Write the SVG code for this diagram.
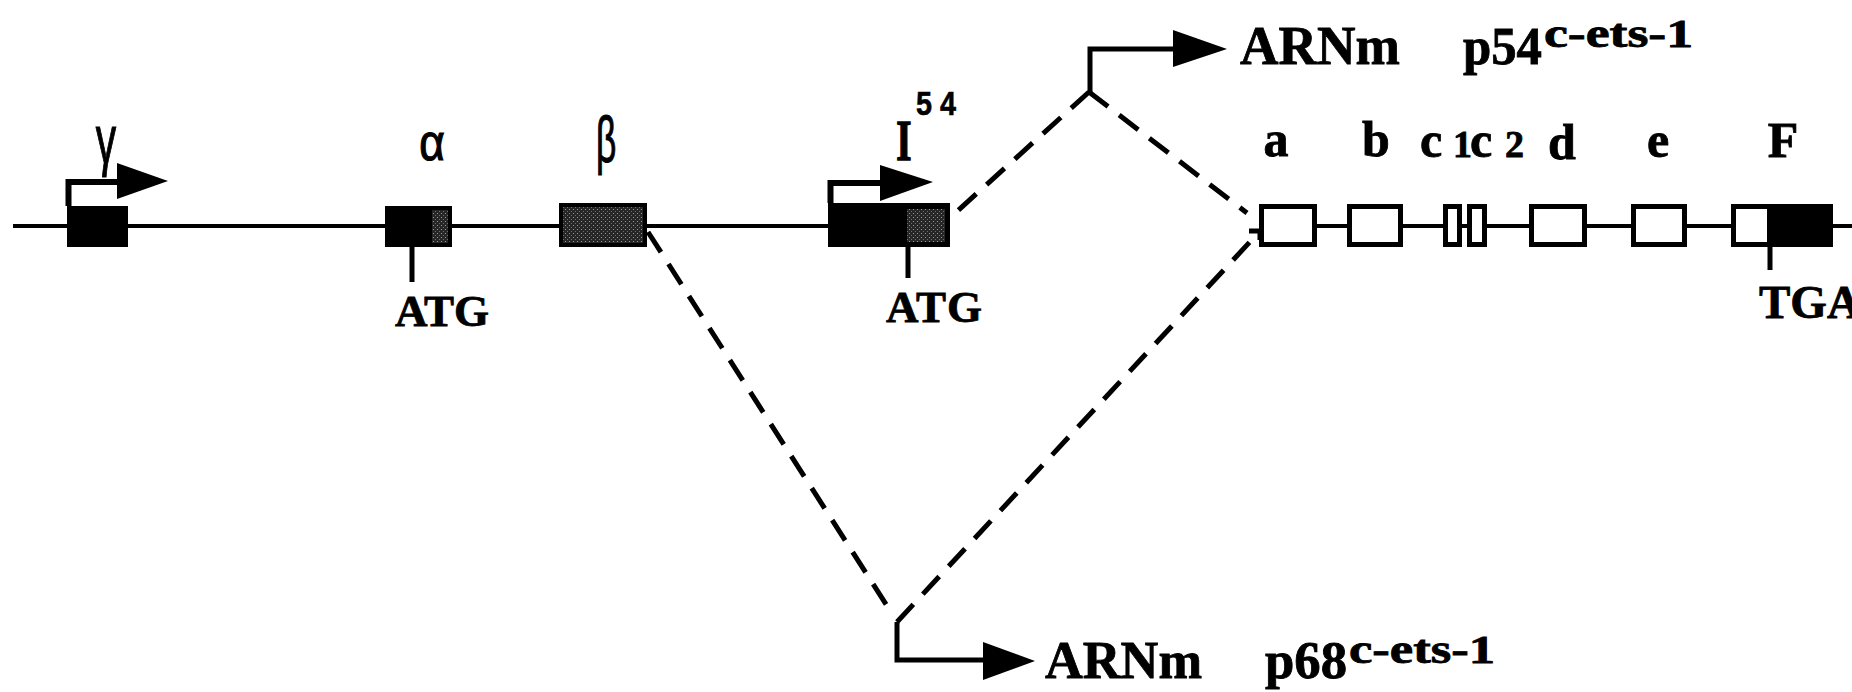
<svg xmlns="http://www.w3.org/2000/svg" width="1852" height="692" viewBox="0 0 1852 692">
<defs>
<pattern id="stip" width="4" height="4" patternUnits="userSpaceOnUse">
<rect width="4" height="4" fill="#262626"/>
<rect x="1" y="1" width="1" height="1" fill="#9a9a9a"/>
<rect x="3" y="3" width="1" height="1" fill="#707070"/>
</pattern>
<style>
.bb{stroke:#000;stroke-width:4;fill:none}
.tick{stroke:#000;stroke-width:5}
.exon{fill:#fff;stroke:#000;stroke-width:5}
.dash{stroke:#000;stroke-width:5;fill:none;stroke-dasharray:24 14}
.solid{stroke:#000;stroke-width:5;fill:none}
.head{fill:#000}
.lbl{font-family:"Liberation Serif","Times New Roman",serif;font-weight:bold;fill:#000;stroke:#000;stroke-width:0.8}
.greek{font-family:"Liberation Sans",Arial,sans-serif;fill:#000;stroke:#000;stroke-width:1.2}
</style>
</defs>
<rect width="1852" height="692" fill="#fff"/>

<g id="backbone">
<line class="bb" x1="13" y1="226" x2="950" y2="226"/>
<line class="bb" x1="1259" y1="226" x2="1852" y2="226"/>
</g>

<g id="exon-gamma">
<rect x="67" y="206" width="61" height="41" fill="#000"/>
<path class="solid" style="stroke-width:6" d="M68.5,206 V182 H119"/>
<polygon class="head" points="117,163 168,181 117,199"/>
<text class="greek" transform="translate(106,163) scale(0.6,1)" font-size="68" text-anchor="middle">γ</text>
</g>

<g id="exon-alpha">
<rect x="385" y="206" width="67" height="41" fill="#000"/>
<rect x="432" y="210" width="16" height="33" fill="url(#stip)"/>
<line class="tick" x1="412" y1="247" x2="412" y2="282"/>
<text class="greek" transform="translate(432,160) scale(0.85,1)" font-size="52" text-anchor="middle">α</text>
<text class="lbl" x="395" y="326" font-size="45" textLength="94" lengthAdjust="spacing">ATG</text>
</g>

<g id="exon-beta">
<rect x="559" y="203" width="88" height="44" fill="#000"/>
<rect x="563" y="207" width="80" height="36" fill="url(#stip)"/>
<text class="greek" transform="translate(606,162) scale(0.55,1)" font-size="64" text-anchor="middle">β</text>
</g>

<g id="exon-I54">
<rect x="828" y="203" width="122" height="44" fill="#000"/>
<rect x="907" y="209" width="38" height="33" fill="url(#stip)"/>
<line class="tick" x1="908" y1="247" x2="908" y2="278"/>
<path class="solid" style="stroke-width:6" d="M830.5,203 V183 H882"/>
<polygon class="head" points="880,165 933,182 880,201"/>
<text class="lbl" transform="translate(904,160) scale(0.7,1)" font-size="56" text-anchor="middle" style="stroke-width:1.5">I</text>
<text class="greek" x="916" y="115" font-size="34" font-weight="bold" textLength="40" lengthAdjust="spacingAndGlyphs" style="stroke-width:0.6">5 4</text>
<text class="lbl" x="886" y="322" font-size="45" textLength="96" lengthAdjust="spacing">ATG</text>
</g>

<g id="exon-a">
<rect class="exon" x="1261.5" y="206.5" width="53" height="38"/>
<text class="lbl" x="1276" y="156" font-size="50" text-anchor="middle">a</text>
</g>
<g id="exon-b">
<rect class="exon" x="1349.5" y="206.5" width="51" height="38"/>
<text class="lbl" x="1376" y="156" font-size="50" text-anchor="middle">b</text>
</g>
<g id="exon-c1">
<rect class="exon" x="1445.5" y="206.5" width="14" height="38"/>
<text class="lbl" x="1420" y="157" font-size="50">c</text>
<text class="lbl" x="1453" y="157" font-size="38">1</text>
</g>
<g id="exon-c2">
<rect class="exon" x="1469.5" y="206.5" width="15" height="38"/>
<text class="lbl" x="1470" y="157" font-size="50">c</text>
<text class="lbl" x="1505" y="157" font-size="38">2</text>
</g>
<g id="exon-d">
<rect class="exon" x="1531.5" y="206.5" width="53" height="38"/>
<text class="lbl" x="1562" y="159" font-size="50" text-anchor="middle">d</text>
</g>
<g id="exon-e">
<rect class="exon" x="1633.5" y="206.5" width="51" height="38"/>
<text class="lbl" x="1658" y="157" font-size="50" text-anchor="middle">e</text>
</g>
<g id="exon-F">
<rect class="exon" x="1733.5" y="206.5" width="97" height="38"/>
<rect x="1767" y="204" width="66" height="43" fill="#000"/>
<line class="tick" x1="1770" y1="247" x2="1770" y2="270"/>
<text class="lbl" x="1783" y="157" font-size="50" text-anchor="middle">F</text>
<text class="lbl" x="1759" y="318" font-size="47">TGA</text>
</g>

<g id="connectors">
<line class="dash" x1="1089" y1="92" x2="953" y2="215"/>
<line class="dash" x1="1089" y1="92" x2="1247" y2="213"/>
<line class="dash" x1="648" y1="232" x2="889" y2="609"/>
<line class="dash" x1="897" y1="622" x2="1260" y2="231"/>
<polyline class="solid" points="1249,231 1260,231 1260,240"/>
<path class="solid" d="M1090,92 V49 H1175"/>
<polygon class="head" points="1173,30 1227,49 1173,67"/>
<path class="solid" d="M897,622 V660 H985"/>
<polygon class="head" points="983,642 1035,661 983,680"/>
</g>

<g id="mrna-p54">
<text class="lbl" x="1240" y="64" font-size="54" textLength="160" lengthAdjust="spacingAndGlyphs">ARNm</text>
<text class="lbl" x="1463" y="64" font-size="52" textLength="79" lengthAdjust="spacingAndGlyphs">p54</text>
<text class="lbl" x="1544" y="47" font-size="40" textLength="149" lengthAdjust="spacingAndGlyphs">c-ets-1</text>
</g>
<g id="mrna-p68">
<text class="lbl" x="1045" y="678" font-size="53" textLength="157" lengthAdjust="spacingAndGlyphs">ARNm</text>
<text class="lbl" x="1265" y="678" font-size="52" textLength="82" lengthAdjust="spacingAndGlyphs">p68</text>
<text class="lbl" x="1349" y="663" font-size="40" textLength="146" lengthAdjust="spacingAndGlyphs">c-ets-1</text>
</g>
</svg>
